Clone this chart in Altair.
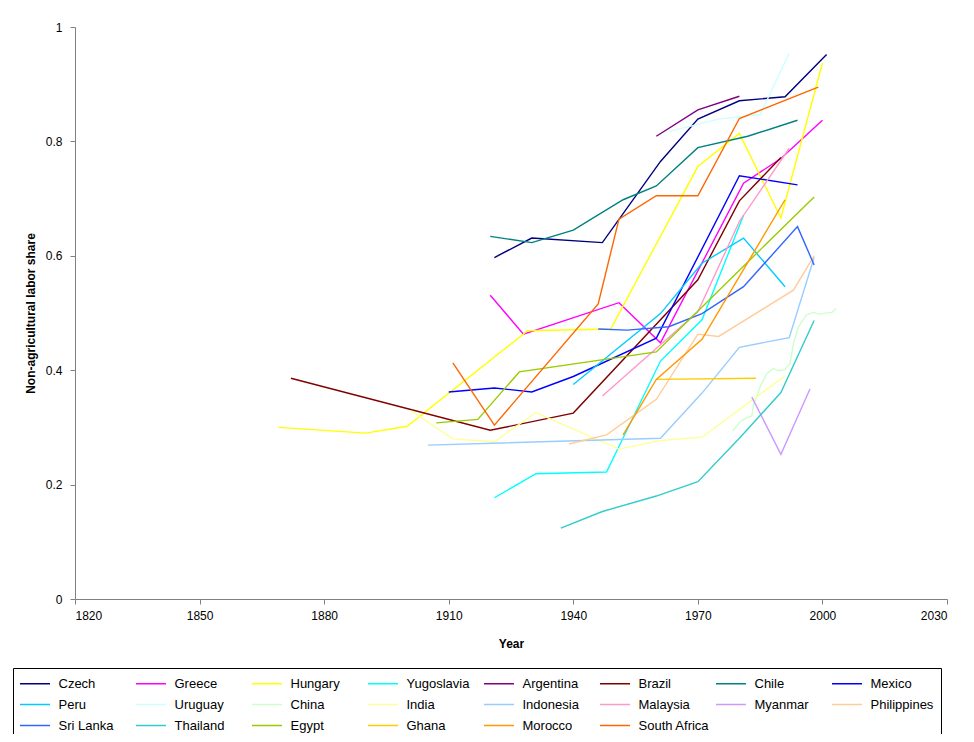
import altair as alt
import pandas as pd

countries = ["Czech", "Greece", "Hungary", "Yugoslavia", "Argentina", "Brazil", "Chile", "Mexico",
             "Peru", "Uruguay", "China", "India", "Indonesia", "Malaysia", "Myanmar", "Philippines",
             "Sri Lanka", "Thailand", "Egypt", "Ghana", "Morocco", "South Africa"]
colors = ["#000080", "#FF00FF", "#FFFF00", "#00FFFF", "#800080", "#800000", "#008080", "#0000FF",
          "#00CCFF", "#CCFFFF", "#CCFFCC", "#FFFF99", "#99CCFF", "#FF99CC", "#CC99FF", "#FFCC99",
          "#3366FF", "#33CCCC", "#99CC00", "#FFCC00", "#FF9900", "#FF6600"]

czech_years = [1921, 1930, 1947, 1961, 1970, 1980, 1991, 2001]
czech_vals = [0.597, 0.631, 0.623, 0.765, 0.839, 0.871, 0.878, 0.952]
greece_years = [1920, 1928, 1951, 1961, 1981, 1990, 2000]
greece_vals = [0.531, 0.463, 0.518, 0.448, 0.727, 0.770, 0.837]
hungary_years = [1869, 1890, 1900, 1929, 1949, 1970, 1980, 1990, 2000]
hungary_vals = [0.300, 0.290, 0.302, 0.469, 0.472, 0.756, 0.814, 0.666, 0.937]
yugoslavia_years = [1921, 1931, 1948, 1961, 1971, 1981]
yugoslavia_vals = [0.177, 0.219, 0.222, 0.416, 0.488, 0.671]
argentina_years = [1960, 1970, 1980]
argentina_vals = [0.809, 0.855, 0.879]
brazil_years = [1872, 1920, 1940, 1970, 1980, 1990]
brazil_vals = [0.386, 0.295, 0.325, 0.558, 0.696, 0.772]
chile_years = [1920, 1930, 1940, 1952, 1960, 1970, 1982, 1994]
chile_vals = [0.634, 0.623, 0.645, 0.698, 0.722, 0.789, 0.809, 0.837]
mexico_years = [1910, 1921, 1930, 1940, 1960, 1980, 1994]
mexico_vals = [0.362, 0.369, 0.362, 0.389, 0.456, 0.740, 0.724]
peru_years = [1940, 1961, 1971, 1981, 1991]
peru_vals = [0.375, 0.499, 0.587, 0.631, 0.546]
uruguay_years = [1963, 1975, 1985, 1992]
uruguay_vals = [0.817, 0.839, 0.847, 0.954]
china_years = [1978.4, 1980.2, 1981.8, 1983.0, 1983.4, 1985.0, 1986.6, 1988.2, 1989.4, 1991.0,
               1992.2, 1993.0, 1994.2, 1996.2, 1997.8, 1999.0, 2002.3, 2003.3]
china_vals = [0.294, 0.310, 0.317, 0.320, 0.339, 0.371, 0.394, 0.403, 0.399, 0.401,
              0.412, 0.446, 0.476, 0.497, 0.501, 0.498, 0.501, 0.508]
india_years = [1901, 1911, 1921, 1931, 1951, 1961, 1971, 1991]
india_vals = [0.329, 0.280, 0.275, 0.326, 0.262, 0.277, 0.283, 0.390]
indonesia_years = [1905, 1961, 1971, 1980, 1992, 1998]
indonesia_vals = [0.269, 0.281, 0.360, 0.440, 0.457, 0.597]
malaysia_years = [1947, 1970, 1980, 1992]
malaysia_vals = [0.355, 0.502, 0.660, 0.788]
myanmar_years = [1983, 1990, 1997]
myanmar_vals = [0.353, 0.253, 0.367]
philippines_years = [1939, 1948, 1960, 1970, 1975, 1993, 1998]
philippines_vals = [0.271, 0.287, 0.349, 0.463, 0.459, 0.540, 0.600]
srilanka_years = [1946, 1953, 1963, 1971, 1981, 1994, 1998]
srilanka_vals = [0.472, 0.470, 0.476, 0.499, 0.546, 0.651, 0.584]
thailand_years = [1937, 1947, 1960, 1970, 1980, 1990, 1998]
thailand_vals = [0.124, 0.153, 0.180, 0.205, 0.281, 0.361, 0.487]
egypt_years = [1907, 1917, 1927, 1960, 1998]
egypt_vals = [0.308, 0.314, 0.397, 0.432, 0.703]
ghana_years = [1960, 1984]
ghana_vals = [0.384, 0.386]
morocco_years = [1952, 1960, 1971, 1991]
morocco_vals = [0.287, 0.384, 0.454, 0.698]
southafrica_years = [1911, 1921, 1946, 1951, 1960, 1970, 1980, 1999]
southafrica_vals = [0.413, 0.304, 0.516, 0.664, 0.705, 0.705, 0.840, 0.895]

x_ticks = [1820, 1850, 1880, 1910, 1940, 1970, 2000, 2030]
y_ticks = [0, 0.2, 0.4, 0.6, 0.8, 1]

series = {
    "Czech": (czech_years, czech_vals), "Greece": (greece_years, greece_vals),
    "Hungary": (hungary_years, hungary_vals), "Yugoslavia": (yugoslavia_years, yugoslavia_vals),
    "Argentina": (argentina_years, argentina_vals), "Brazil": (brazil_years, brazil_vals),
    "Chile": (chile_years, chile_vals), "Mexico": (mexico_years, mexico_vals),
    "Peru": (peru_years, peru_vals), "Uruguay": (uruguay_years, uruguay_vals),
    "China": (china_years, china_vals), "India": (india_years, india_vals),
    "Indonesia": (indonesia_years, indonesia_vals), "Malaysia": (malaysia_years, malaysia_vals),
    "Myanmar": (myanmar_years, myanmar_vals), "Philippines": (philippines_years, philippines_vals),
    "Sri Lanka": (srilanka_years, srilanka_vals), "Thailand": (thailand_years, thailand_vals),
    "Egypt": (egypt_years, egypt_vals), "Ghana": (ghana_years, ghana_vals),
    "Morocco": (morocco_years, morocco_vals), "South Africa": (southafrica_years, southafrica_vals),
}

rows = []
for c in countries:
    ys, vs = series[c]
    for yr, v in zip(ys, vs):
        rows.append({"country": c, "year": yr, "share": v})
df = pd.DataFrame(rows)

font = "Liberation Sans"

chart = alt.Chart(df).mark_line(strokeWidth=1.4, interpolate="linear").encode(
    x=alt.X("year:Q", title="Year",
            scale=alt.Scale(domain=[1820, 2030], nice=False, zero=False),
            axis=alt.Axis(values=x_ticks, format="d", grid=False, tickSize=5,
                          labelPadding=6, titlePadding=17)),
    y=alt.Y("share:Q", title="Non-agricultural labor share",
            scale=alt.Scale(domain=[0, 1], nice=False),
            axis=alt.Axis(values=y_ticks, format="~g", grid=False, tickSize=5,
                          labelPadding=8, titlePadding=8)),
    color=alt.Color("country:N", title=None,
                    scale=alt.Scale(domain=countries, range=colors),
                    legend=alt.Legend(orient="none", legendX=-62, legendY=641, columns=8,
                                      direction="horizontal",
                                      symbolType="M-2,0H2", symbolSize=225, symbolStrokeWidth=1.5,
                                      symbolOffset=6.5, labelOffset=15,
                                      labelFont=font, labelFontSize=13, labelColor="black",
                                      labelLimit=200, gridAlign="all", columnPadding=3,
                                      rowPadding=5, padding=7, strokeColor="black",
                                      fillColor="white")),
    detail="country:N",
).properties(
    width=872, height=572,
    autosize=alt.AutoSizeParams(type="none"),
    padding={"left": 67, "top": 19, "right": 19, "bottom": 135},
).configure_view(stroke=None).configure_axis(
    domainColor="#808080", tickColor="#808080", labelFont=font, labelFontSize=12,
    labelColor="black", titleFont=font, titleFontSize=12, titleFontWeight="bold",
    titleColor="black",
)

chart.save("out.html", embed_options={"renderer": "svg", "actions": False})
